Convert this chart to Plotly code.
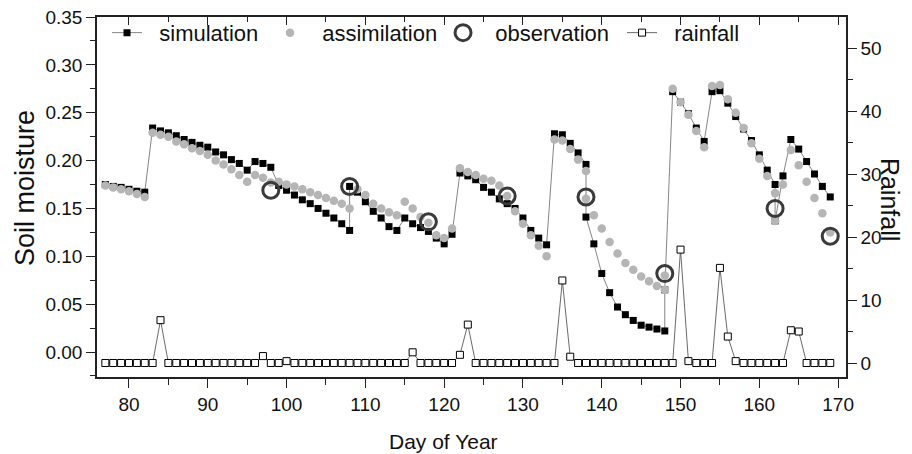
import plotly.graph_objects as go

# ---------------- data ----------------
sim_days = [77, 78, 79, 80, 81, 82, 83, 84, 85, 86, 87, 88, 89, 90, 91, 92, 93, 94, 95, 96,
            97, 98, 99, 100, 101, 102, 103, 104, 105, 106, 107, 108, 108, 109, 110, 111, 112,
            113, 114, 115, 116, 117, 118, 119, 120, 121, 122, 123, 124, 125, 126, 127, 128,
            129, 130, 131, 132, 133, 134, 135, 136, 137, 138, 138, 139, 140, 141, 142, 143,
            144, 145, 146, 147, 148, 148, 149, 150, 151, 152, 153, 154, 155, 156, 157, 158,
            159, 160, 161, 162, 162, 163, 164, 165, 166, 167, 168, 169]
sim_vals = [0.175, 0.173, 0.172, 0.170, 0.168, 0.167, 0.234, 0.231, 0.229, 0.226, 0.222, 0.219,
            0.216, 0.214, 0.209, 0.206, 0.201, 0.197, 0.190, 0.199, 0.197, 0.193, 0.174, 0.169,
            0.164, 0.159, 0.155, 0.150, 0.145, 0.140, 0.134, 0.127, 0.173, 0.167, 0.157, 0.147,
            0.140, 0.131, 0.127, 0.140, 0.134, 0.130, 0.126, 0.119, 0.113, 0.123, 0.187, 0.184,
            0.180, 0.172, 0.167, 0.160, 0.155, 0.150, 0.140, 0.127, 0.119, 0.112, 0.228, 0.227,
            0.218, 0.208, 0.196, 0.141, 0.113, 0.082, 0.062, 0.047, 0.039, 0.033, 0.028, 0.026,
            0.024, 0.022, 0.065, 0.272, 0.261, 0.249, 0.234, 0.220, 0.272, 0.273, 0.260, 0.246,
            0.233, 0.221, 0.206, 0.190, 0.175, 0.137, 0.184, 0.222, 0.212, 0.199, 0.186, 0.173,
            0.162]

assim_days = [77, 78, 79, 80, 81, 82, 83, 84, 85, 86, 87, 88, 89, 90, 91, 92, 93, 94, 95, 96,
              97, 98, 99, 100, 101, 102, 103, 104, 105, 106, 107, 108, 109, 110, 111, 112, 113,
              114, 115, 116, 117, 118, 119, 120, 121, 122, 123, 124, 125, 126, 127, 128, 129,
              130, 131, 132, 133, 134, 135, 136, 137, 138, 138, 139, 140, 141, 142, 143, 144,
              145, 146, 147, 148, 148, 149, 150, 151, 152, 153, 154, 155, 156, 157, 158, 159,
              160, 161, 162, 162, 163, 164, 165, 166, 167, 168, 169]
assim_vals = [0.174, 0.172, 0.170, 0.168, 0.165, 0.162, 0.229, 0.227, 0.225, 0.220, 0.217, 0.213,
              0.210, 0.206, 0.200, 0.196, 0.191, 0.185, 0.178, 0.185, 0.182, 0.177, 0.178, 0.175,
              0.173, 0.170, 0.167, 0.164, 0.161, 0.158, 0.155, 0.150, 0.170, 0.164, 0.155, 0.150,
              0.146, 0.143, 0.157, 0.150, 0.141, 0.135, 0.122, 0.119, 0.129, 0.192, 0.188, 0.185,
              0.181, 0.179, 0.174, 0.163, 0.147, 0.134, 0.122, 0.111, 0.100, 0.222, 0.221, 0.212,
              0.201, 0.189, 0.160, 0.143, 0.129, 0.115, 0.103, 0.093, 0.086, 0.079, 0.074, 0.069,
              0.065, 0.080, 0.275, 0.261, 0.248, 0.231, 0.214, 0.278, 0.279, 0.264, 0.250, 0.234,
              0.218, 0.202, 0.184, 0.166, 0.137, 0.175, 0.211, 0.195, 0.178, 0.161, 0.145, 0.125]

obs_days = [98, 108, 118, 128, 138, 148, 162, 169]
obs_vals = [0.169, 0.173, 0.136, 0.163, 0.162, 0.082, 0.150, 0.121]

rain_days = list(range(77, 170))
rain_vals = [0, 0, 0, 0, 0, 0, 0, 6.8, 0, 0, 0, 0, 0, 0, 0, 0, 0, 0, 0, 0,   # 77-96
             1.1, 0, 0, 0.3, 0, 0, 0, 0, 0, 0, 0, 0, 0, 0, 0, 0, 0, 0, 0,      # 97-115
             1.7, 0, 0, 0, 0, 0, 1.3, 6.1, 0, 0, 0, 0, 0, 0, 0, 0, 0, 0, 0,    # 116-134
             13.1, 1.0, 0, 0, 0, 0, 0, 0, 0, 0, 0, 0, 0, 0, 0,                 # 135-149
             18.0, 0.3, 0, 0, 0, 15.1, 4.2, 0.3, 0, 0, 0, 0, 0, 0,             # 150-163
             5.2, 5.0, 0, 0, 0, 0]                                              # 164-169

x_major = [80, 90, 100, 110, 120, 130, 140, 150, 160, 170]
x_minor = [85, 95, 105, 115, 125, 135, 145, 155, 165]

FONT = "Liberation Sans, Arial, sans-serif"
NB = "\u00a0\u00a0"

fig = go.Figure()

fig.add_trace(go.Scatter(
    x=sim_days, y=sim_vals, name=NB + "simulation", mode="lines+markers",
    line=dict(color="#666666", width=0.8),
    marker=dict(symbol="square", size=7, color="#000000", line=dict(width=0)),
    legend="legend"))

fig.add_trace(go.Scatter(
    x=assim_days, y=assim_vals, name=NB + "assimilation", mode="markers",
    marker=dict(symbol="circle", size=8.5, color="#b5b5b5", line=dict(width=0)),
    legend="legend2"))

fig.add_trace(go.Scatter(
    x=obs_days, y=obs_vals, name=NB + "observation", mode="markers",
    marker=dict(symbol="circle-open", size=16, color="#3a3a3a", line=dict(width=3, color="#3a3a3a")),
    legend="legend3"))

fig.add_trace(go.Scatter(
    x=rain_days, y=rain_vals, name=NB + "rainfall", mode="lines+markers", yaxis="y2",
    line=dict(color="#444444", width=0.8),
    marker=dict(symbol="square", size=7, color="#ffffff", line=dict(width=1, color="#000000")),
    legend="legend4"))

# dummy trace so the top axis is drawn
fig.add_trace(go.Scatter(x=[None], y=[None], xaxis="x2", yaxis="y", showlegend=False, hoverinfo="skip"))

XR = [75.94, 171.0]
axis_line = dict(showline=True, linecolor="#222222", linewidth=1.5, showgrid=False, zeroline=False)

leg_common = dict(orientation="h", yanchor="middle", y=0.956, xanchor="left",
                  bgcolor="rgba(0,0,0,0)", borderwidth=0,
                  font=dict(family=FONT, size=22, color="#111111"))

# the page body adds an 8px margin, so the figure is 8px smaller and margins shifted
fig.update_layout(
    width=904, height=446,
    margin=dict(l=89, r=66, t=9, b=77, autoexpand=False),
    paper_bgcolor="white", plot_bgcolor="white",
    font=dict(family=FONT, size=19, color="#111111"),
    xaxis=dict(range=XR, tickvals=x_major, ticks="outside", ticklen=9, tickwidth=1.3,
               tickcolor="#222222", tickfont=dict(size=19),
               minor=dict(tickvals=x_minor, ticks="outside", ticklen=6, tickwidth=1.3, tickcolor="#222222"),
               **axis_line),
    xaxis2=dict(range=XR, overlaying="x", side="top", tickvals=x_major, ticks="inside", ticklen=8,
                tickwidth=1.3, tickcolor="#222222", showticklabels=False,
                minor=dict(tickvals=x_minor, ticks="inside", ticklen=5, tickwidth=1.3, tickcolor="#222222"),
                **axis_line),
    yaxis=dict(range=[-0.0261, 0.35], dtick=0.05, tick0=0, tickformat=".2f", ticks="outside",
               ticklen=9, tickwidth=1.3, tickcolor="#222222", tickfont=dict(size=19),
               ticklabeloverflow="allow",
               minor=dict(dtick=0.025, tick0=0, ticks="outside", ticklen=5, tickwidth=1.3, tickcolor="#222222"),
               **axis_line),
    yaxis2=dict(range=[-2.22, 54.92], overlaying="y", side="right", dtick=10, tick0=0,
                ticks="outside", ticklen=9, tickwidth=1.3, tickcolor="#222222", tickfont=dict(size=19),
                ticklabeloverflow="allow",
                minor=dict(dtick=5, tick0=0, ticks="outside", ticklen=5, tickwidth=1.3, tickcolor="#222222"),
                **axis_line),
    legend=dict(x=0.0134, **leg_common),
    legend2=dict(x=0.231, **leg_common),
    legend3=dict(x=0.462, **leg_common),
    legend4=dict(x=0.701, **leg_common),
    annotations=[
        dict(text="Day of Year", xref="paper", yref="paper", x=0.4626, y=-0.178,
             xanchor="center", yanchor="middle", showarrow=False, font=dict(size=21)),
        dict(text="Soil moisture", xref="paper", yref="paper", x=-0.0962, y=0.525,
             xanchor="center", yanchor="middle", textangle=-90, showarrow=False, font=dict(size=27)),
        dict(text="Rainfall", xref="paper", yref="paper", x=1.0587, y=0.492,
             xanchor="center", yanchor="middle", textangle=90, showarrow=False, font=dict(size=25)),
    ],
)

fig.write_html("out.html")
